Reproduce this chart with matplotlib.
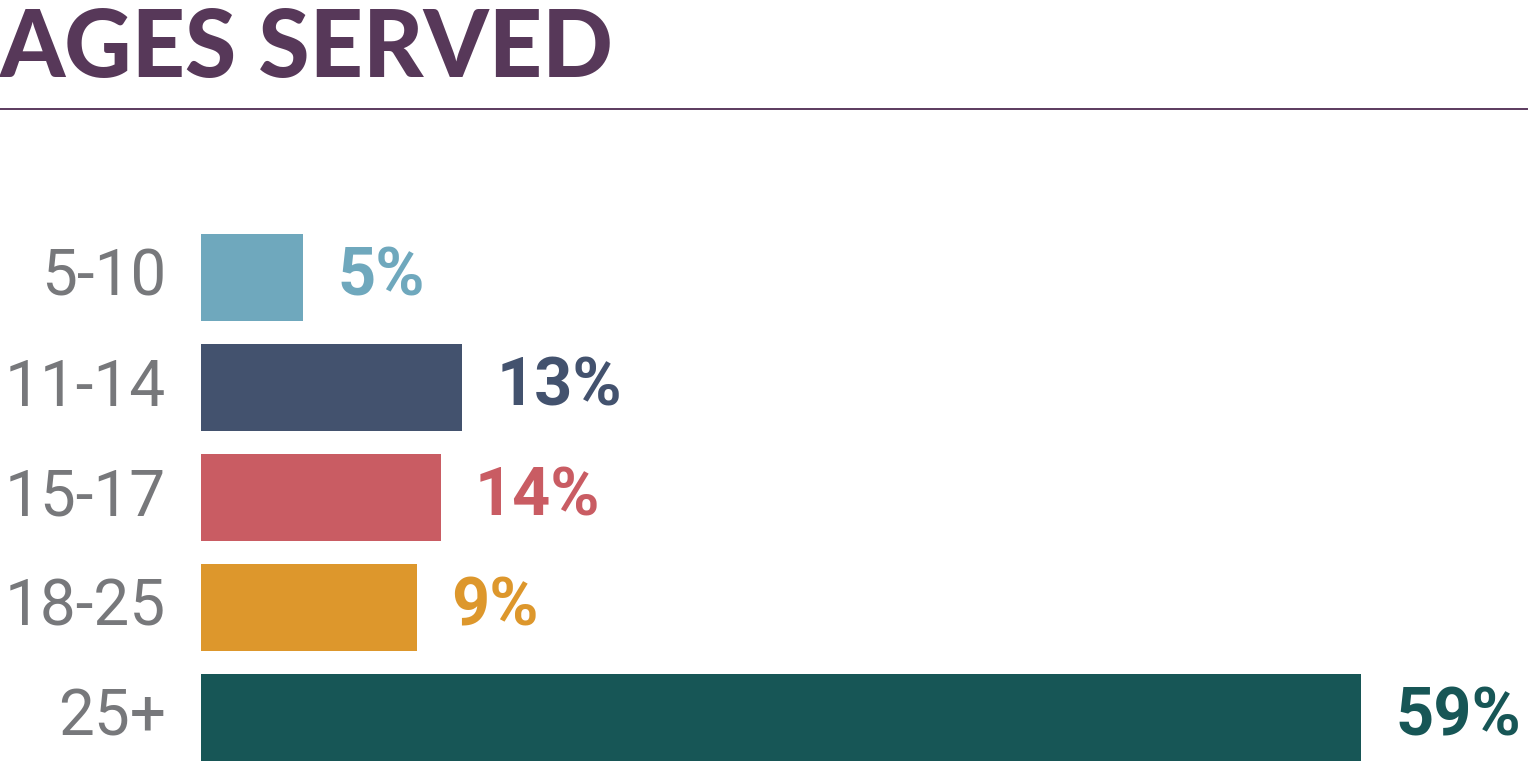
import matplotlib
matplotlib.use("Agg")
import matplotlib.pyplot as plt
from matplotlib.lines import Line2D

title = "AGES SERVED"
categories = ["5-10", "11-14", "15-17", "18-25", "25+"]
bar_values = [5.2, 13.3, 12.2, 11.0, 59.0]
pct_labels = ["5%", "13%", "14%", "9%", "59%"]
colors = ["#6FA8BD", "#43526E", "#C95C63", "#DD972C", "#175656"]

W, H = 1536, 761
fig = plt.figure(figsize=(W / 100, H / 100), dpi=100)
fig.patch.set_facecolor("white")

# axes: x=0 at px 201, 19.66 px per unit; rows pitch 110 px, first center at 277.5
px_per_unit = 1160 / 59.0
left_px = 201
top_px = 222.5
ax = fig.add_axes([left_px / W, 0, (W - left_px) / W, (H - top_px) / H])
ax.set_xlim(0, (W - left_px) / px_per_unit)
ax.set_ylim(-0.5 + (H - top_px) / 110, -0.5)
ax.axis("off")

ypos = list(range(len(categories)))
ax.barh(ypos, bar_values, height=87 / 110, color=colors, edgecolor="none")

for y, v, lab, c, cat in zip(ypos, bar_values, pct_labels, colors, categories):
    ax.annotate(lab, xy=(v, y), xytext=(34, 0), textcoords="offset pixels",
                ha="left", va="center", fontsize=48, fontweight="bold",
                color=c, family="Roboto")
    ax.annotate(cat, xy=(0, y), xytext=(-35, 0), textcoords="offset pixels",
                ha="right", va="center", fontsize=46, color="#77787B",
                family="Roboto")

fig.text(0 / W, 1 - 77 / H, title, ha="left", va="baseline", fontsize=67,
         fontweight="black", color="#573859", family="Lato")
fig.add_artist(Line2D([0, 1527 / W], [1 - 109 / H, 1 - 109 / H],
                      color="#5B3A5E", lw=1.4, transform=fig.transFigure))

fig.savefig("out.png", dpi=100)
